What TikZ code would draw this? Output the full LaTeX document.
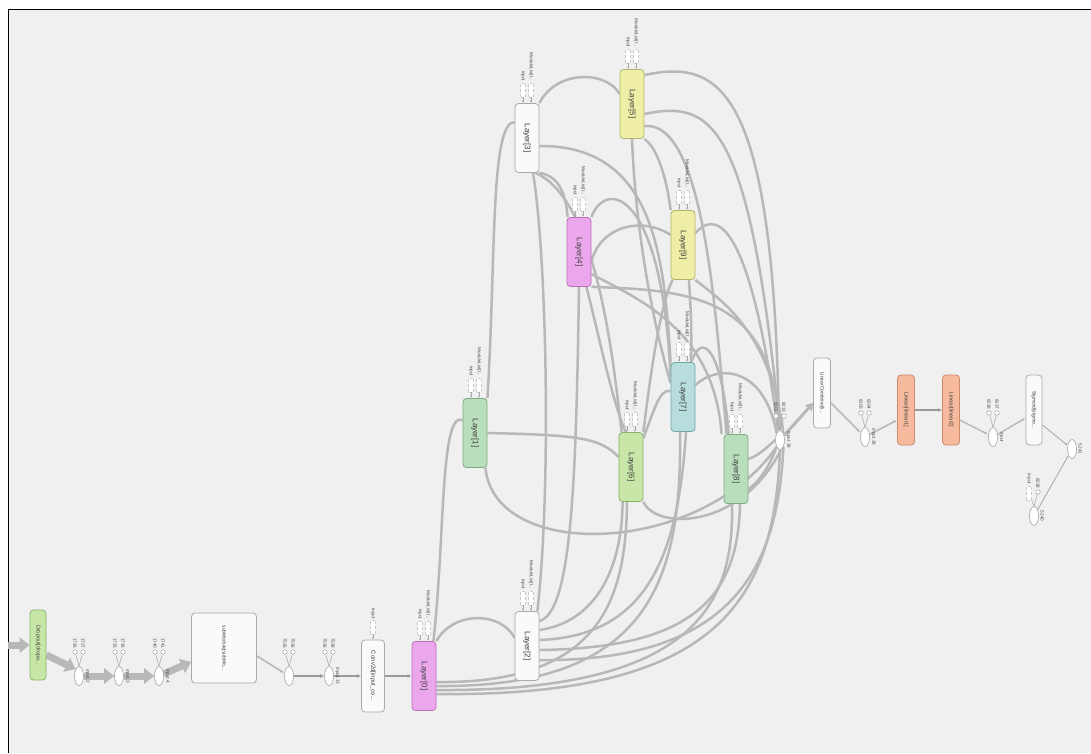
\documentclass[tikz,border=0pt]{standalone}
\usepackage{fontspec}
\setmainfont{Liberation Sans}
\usetikzlibrary{arrows.meta,positioning,shapes.geometric}
\definecolor{canvas}{RGB}{240,240,240}
\definecolor{wire}{RGB}{184,184,184}
\definecolor{rim}{RGB}{165,165,165}
\definecolor{plainfill}{RGB}{250,250,250}\definecolor{plainline}{RGB}{170,170,170}
\definecolor{pinkfill}{RGB}{236,166,236}\definecolor{pinkline}{RGB}{185,110,185}
\definecolor{greenfill}{RGB}{185,222,188}\definecolor{greenline}{RGB}{125,170,130}
\definecolor{limefill}{RGB}{200,230,168}\definecolor{limeline}{RGB}{135,180,105}
\definecolor{yellowfill}{RGB}{238,238,166}\definecolor{yellowline}{RGB}{180,180,105}
\definecolor{cyanfill}{RGB}{184,221,221}\definecolor{cyanline}{RGB}{115,165,165}
\definecolor{orangefill}{RGB}{246,186,158}\definecolor{orangeline}{RGB}{205,135,105}
\newcommand{\vlab}[1]{\rotatebox{-90}{#1}}
\pgfdeclarelayer{back}\pgfdeclarelayer{edges}
\pgfsetlayers{back,edges,main}

\begin{document}
\begin{tikzpicture}[x=1pt,y=-1pt,
 op/.style={draw=#1line,fill=#1fill,rounded corners=3.5pt,line width=.8pt,minimum width=24pt,minimum height=69pt,inner sep=0pt,font=\fontsize{8}{8}\selectfont,text=black!75},
 junc/.style={ellipse,draw=rim,fill=white,line width=.6pt,minimum width=9pt,minimum height=19pt,inner sep=0pt},
 knob/.style={circle,draw=rim,fill=white,line width=.5pt,minimum size=4.5pt,inner sep=0pt},
 stub/.style={draw=rim!60,densely dashed,fill=white,line width=.4pt,minimum width=5pt,minimum height=14pt,inner sep=0pt},
 tag/.style={font=\fontsize{4.6}{4.6}\selectfont,text=black!70,inner sep=.5pt},
 wire/.style={draw=wire,line width=2.5pt},
 fat/.style={draw=wire,line width=7pt,-{Triangle[length=10pt,width=15pt]}},
 feed/.style={draw=black!35,line width=.5pt,-{Latex[length=2.5pt,width=2pt]}},
 flow/.style={draw=black!40,line width=1.4pt,-{Latex[length=4pt,width=4pt]}}]
\useasboundingbox (0,0) rectangle (1091,753);
\begin{pgfonlayer}{back}
\fill[white] (0,0) rectangle (1091,753);
\fill[canvas] (8,9) rectangle (1091,753);
\draw[black,line width=1pt] (8,753) -- (8,9) -- (1091,9);
\end{pgfonlayer}

% layers
\foreach \n/\x/\y/\c in {0/424/676/pink,1/475/433/green,2/527/646/plain,3/527/138/plain,4/579/252/pink,
  5/632/104/yellow,6/631/467/lime,7/683/397/cyan,8/736/469/green,9/683/245/yellow}{
  \node[op=\c] (L\n) at (\x,\y) {\vlab{Layer[\n]}};
  \node[stub,anchor=south] (in\n) at ([xshift=-4pt,yshift=6pt]L\n.north) {};
  \node[stub,anchor=south] (ml\n) at ([xshift=4pt,yshift=6pt]L\n.north) {};
  \node[tag,above=1pt of in\n] (tin\n) {\vlab{input}};
  \node[tag,above=1pt of ml\n] (tml\n) {\vlab{ModuleList[l...}};
  \draw[feed] (in\n) -- ([xshift=-4pt]L\n.north);
  \draw[feed] (ml\n) -- ([xshift=4pt]L\n.north);
}

% junctions with their two inputs
\foreach \j/\x/\y/\a/\b in {j1/79/676/1726/1727,j2/119/676/1735/1736,j3/159/676/1740/1741,
  j4/289/676/7526/7536,j5/329/676/7536/7538,agg/780/440/8203/8213,j6/865/437/8205/8204,j7/993/437/8236/8237}{
  \node[junc] (\j) at (\x,\y) {};
  \node[knob] (\j l) at (\x-4,\y-24) {};
  \node[knob] (\j r) at (\x+4,\y-24) {};
  \draw[rim,line width=.5pt] (\j l) -- (\j.north) (\j r) -- (\j.north);
  \node[tag,above=.5pt of \j l] (t\j l) {\vlab{\a}};
  \node[tag,above=.5pt of \j r] (t\j r) {\vlab{\b}};
}
\foreach \j/\t in {j1/input.2,j2/input.3,j3/input.4,j5/input.13,agg/input.36,j6/input.38,j7/input}
  \node[tag,right=1pt of \j] (s\j) {\vlab{\t}};

% left chain
\coordinate (src) at (8,645);
\node[op=lime,minimum width=16pt,minimum height=70pt,font=\fontsize{5.5}{5.5}\selectfont] (drop) at (38,645) {\vlab{Dropout[dropo...}};
\node[op=plain,minimum width=65pt,minimum height=70pt,font=\fontsize{5}{5}\selectfont] (sub) at (224,648) {\vlab{subModule[subMo...}};
\node[op=plain,minimum width=23pt,minimum height=72pt,font=\fontsize{6}{6}\selectfont] (conv) at (373,676) {\vlab{Conv2d[input\_co...}};
\node[stub,anchor=south] (cin) at ([yshift=5pt]conv.north) {};
\node[tag,above=1pt of cin] (tcin) {\vlab{input}};
\draw[feed] (cin) -- (conv.north);

% right chain
\node[op=plain,minimum width=17pt,minimum height=70pt,font=\fontsize{5}{5}\selectfont] (comb) at (822,393) {\vlab{LinearCombine[li...}};
\node[op=orange,minimum width=17pt,minimum height=70pt,font=\fontsize{5.5}{5.5}\selectfont] (lin1) at (906,410) {\vlab{Linear[linear1]}};
\node[op=orange,minimum width=17pt,minimum height=70pt,font=\fontsize{5.5}{5.5}\selectfont] (lin2) at (951,410) {\vlab{Linear[linear2]}};
\node[op=plain,minimum width=16pt,minimum height=70pt,font=\fontsize{5}{5}\selectfont] (sig) at (1034,410) {\vlab{Sigmoid[sigmo...}};
\node[junc] (out) at (1072,449) {};
\node[tag,right=1pt of out] (sout) {\vlab{5241}};
\node[junc] (j8) at (1034,516) {};
\node[tag,right=1pt of j8] (sj8) {\vlab{5240}};
\node[knob] (j8r) at (1038,492) {};
\node[stub,anchor=south] (j8in) at (1029,500) {};
\node[tag,above=.5pt of j8r] (tj8r) {\vlab{8238}};
\node[tag,above=1pt of j8in] (tj8in) {\vlab{input}};
\draw[rim,line width=.5pt] (j8r) -- (j8.north) (j8in) -- (j8.north);

\begin{pgfonlayer}{edges}
\draw[fat] (src) -- (drop.west);
\draw[fat] ([yshift=-10pt]drop.east) -- (j1.north west);
\draw[fat] (j1) -- (j2);
\draw[fat] (j2) -- (j3);
\draw[fat] (j3) -- ([yshift=-14pt]sub.west);
\draw[wire,line width=1.6pt,-{Latex[length=4pt]}] ([yshift=-8pt]sub.east) -- (j4);
\draw[flow] (j4) -- (j5);
\draw[flow] (j5) -- (conv);
\draw[flow] (conv) -- (L0);
\draw[wire,line width=3pt,-{Triangle[length=7pt,width=9pt]}] (agg) -- ([yshift=-10pt]comb.west);
\draw[wire,line width=1.6pt,-{Latex[length=4pt]}] ([yshift=-10pt]comb.east) -- (j6);
\draw[wire,line width=1.6pt,-{Latex[length=4pt]}] (j6) -- ([yshift=-10pt]lin1.west);
\draw[flow] (lin1) -- (lin2);
\draw[wire,line width=1.4pt,-{Latex[length=4pt]}] ([yshift=-10pt]lin2.east) -- (j7);
\draw[wire,line width=1.4pt,-{Latex[length=4pt]}] (j7) -- ([yshift=-8pt]sig.west);
\draw[feed,line width=.8pt] ([yshift=-15pt]sig.east) -- (out);
\draw[feed,line width=.8pt] (j8) -- (out);
% layer 0
\draw[wire] (L0.north east) .. controls (452,612) and (500,610) .. ([yshift=8pt]L2.west);
\draw[wire] ([xshift=-3pt]L0.north east) .. controls (445,540) and (440,410) .. ([yshift=13pt]L1.west);
\draw[wire] ([yshift=-6pt]L0.east) .. controls (600,684) and (626,600) .. ([xshift=-4pt]L6.south);
\draw[wire] ([yshift=-10pt]L0.east) .. controls (650,688) and (682,580) .. ([xshift=-3pt]L7.south);
\draw[wire] ([yshift=-14pt]L0.east) .. controls (700,692) and (734,600) .. ([xshift=-4pt]L8.south);
\draw[wire] ([yshift=-18pt]L0.east) .. controls (720,697) and (774,600) .. (agg.south);
% layer 1
\draw[wire] (L1.east) .. controls (580,435) and (600,438) .. ([yshift=10pt]L6.west);
\draw[wire] ([xshift=-2pt]L1.south east) .. controls (495,562) and (700,556) .. (agg.south west);
\draw[wire] (L1.north east) .. controls (496,260) and (490,122) .. ([yshift=16pt]L3.west);
% layer 2
\draw[wire] ([xshift=-2pt]L2.north east) .. controls (552,480) and (546,250) .. ([xshift=6pt]L3.south);
\draw[wire] ([yshift=25pt]L2.east) .. controls (572,612) and (576,480) .. (L4.south);
\draw[wire] ([yshift=16pt]L2.east) .. controls (595,622) and (622,570) .. ([xshift=4pt]L6.south west);
\draw[wire] ([yshift=6pt]L2.east) .. controls (645,636) and (678,560) .. ([xshift=3pt]L7.south);
\draw[wire] ([yshift=-4pt]L2.east) .. controls (690,648) and (738,600) .. ([xshift=4pt]L8.south);
\draw[wire] ([yshift=-14pt]L2.east) .. controls (740,662) and (778,560) .. (agg.south east);
% layer 3
\draw[wire] (L3.north east) .. controls (556,70) and (606,70) .. ([yshift=10pt]L5.west);
\draw[wire] ([yshift=-8pt]L3.east) .. controls (656,145) and (664,260) .. (L7.north west);
\draw[wire] (L3.south east) .. controls (560,176) and (566,196) .. ([xshift=1pt]L4.north west);
\draw[wire] ([xshift=-4pt]L3.south east) .. controls (600,200) and (615,380) .. ([xshift=3pt]L6.north west);
% layer 4
\draw[wire] (L4.north east) .. controls (606,178) and (662,190) .. ([yshift=20pt]L7.west);
\draw[wire] ([yshift=-10pt]L4.east) .. controls (600,226) and (642,216) .. ([yshift=10pt]L9.west);
\draw[wire] (L4.south east) .. controls (700,290) and (772,300) .. (agg.north);
\draw[wire] ([xshift=-5pt]L4.south east) .. controls (600,340) and (612,400) .. ([xshift=7pt]L6.north west);
\draw[wire] ([yshift=-22pt]L4.east) .. controls (640,300) and (714,330) .. ([xshift=-2pt]L8.north west);
% layer 5
\draw[wire] ([yshift=-6pt]L5.north east) .. controls (722,58) and (774,90) .. ([xshift=-1pt]agg.north);
\draw[wire] ([yshift=-10pt]L5.east) .. controls (712,100) and (750,120) .. (agg.north);
\draw[wire] (L5.south east) .. controls (660,150) and (668,188) .. (L9.north west);
\draw[wire] (L5.south) .. controls (636,240) and (655,330) .. ([yshift=14pt]L7.west);
\draw[wire] ([yshift=-22pt]L5.east) .. controls (705,120) and (716,320) .. ([xshift=3pt]L8.north west);
% layer 6
\draw[wire] ([yshift=-6pt]L6.north east) .. controls (654,410) and (660,388) .. ([yshift=6pt]L7.west);
\draw[wire] (L6.north east) .. controls (652,360) and (662,300) .. ([xshift=2pt]L9.south west);
\draw[wire] (L6.south east) .. controls (656,530) and (740,530) .. ([xshift=1pt]agg.south);
% layer 7
\draw[wire] ([yshift=12pt]L7.east) .. controls (718,364) and (764,366) .. (agg.north west);
\draw[wire] ([xshift=-4pt]L7.north east) .. controls (702,330) and (722,350) .. ([xshift=5pt]L8.north west);
\draw[wire] ([xshift=8pt]L7.north) .. controls (692,320) and (690,300) .. ([xshift=6pt]L9.south);
% layer 8
\draw[wire] ([yshift=10pt]L8.east) .. controls (760,455) and (768,446) .. (agg.west);
\draw[wire] ([yshift=-20pt]L8.east) .. controls (762,480) and (772,460) .. (agg.south west);
% layer 9
\draw[wire] ([yshift=12pt]L9.east) .. controls (712,214) and (748,205) .. ([xshift=-2pt]agg.north);
\draw[wire] (L9.south east) .. controls (720,300) and (770,330) .. (agg.north east);
\end{pgfonlayer}
\end{tikzpicture}
\end{document}
